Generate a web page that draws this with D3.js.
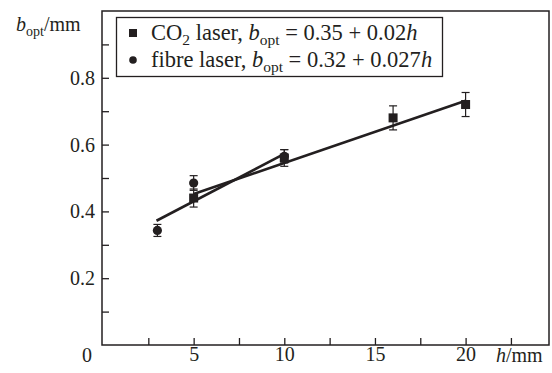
<!DOCTYPE html>
<html>
<head>
<meta charset="utf-8">
<script src="https://cdn.jsdelivr.net/npm/d3@7"></script>
<style>
  body { margin: 0; background: #fff; }
  text { font-family: "Liberation Serif", "Times New Roman", serif; fill: #231f20; }
</style>
</head>
<body>
<svg width="552" height="373"></svg>
<script>
// CO2 laser points
const hCO2 = [5, 10, 16, 20];
const bCO2 = [0.44, 0.56, 0.68, 0.72];
const errCO2 = [0.027, 0.025, 0.036, 0.036];
// fibre laser points
const hFibre = [3, 5, 10];
const bFibre = [0.343, 0.485, 0.565];
const errFibre = [0.018, 0.022, 0.02];
// fitted lines at their end points
const fitCO2 = [[5, 0.452], [20, 0.731]];
const fitFibre = [[2.95, 0.372], [10, 0.572]];
// ticks
const xTicks = [2.5, 5, 7.5, 10, 12.5, 15, 17.5, 20, 22.5];
const xLabels = [5, 10, 15, 20];
const yTicks = [0.1, 0.2, 0.3, 0.4, 0.5, 0.6, 0.7, 0.8, 0.9];
const yLabels = [0.2, 0.4, 0.6, 0.8];

const ink = "#231f20";
const serif = '"Liberation Serif", "Times New Roman", serif';
const svg = d3.select("svg");
const plotLeft = 102, plotRight = 549, plotTop = 11, plotBottom = 345;

const x = d3.scaleLinear().domain([0, 24.6]).range([plotLeft + 1, plotRight]);
const y = d3.scaleLinear().domain([0, 1]).range([plotBottom, plotTop]);

// frame
svg.append("rect")
    .attr("x", plotLeft).attr("y", plotTop)
    .attr("width", plotRight - plotLeft).attr("height", plotBottom - plotTop)
    .attr("fill", "none").attr("stroke", ink).attr("stroke-width", 1.5);

// axes, ticks pointing inwards
const yAxis = svg.append("g")
    .attr("transform", "translate(" + plotLeft + ",0)")
    .call(d3.axisLeft(y).tickValues(yTicks).tickSizeInner(-7).tickSizeOuter(0).tickPadding(7)
        .tickFormat(function(d) { return yLabels.some(v => Math.abs(v - d) < 1e-9) ? d3.format(".1f")(d) : ""; }));
const xAxis = svg.append("g")
    .attr("transform", "translate(0," + plotBottom + ")")
    .call(d3.axisBottom(x).tickValues(xTicks).tickSizeInner(-7).tickSizeOuter(0).tickPadding(2)
        .tickFormat(function(d) { return xLabels.indexOf(d) >= 0 ? d : ""; }));
[xAxis, yAxis].forEach(function(a) {
    a.attr("font-family", serif).attr("font-size", 20);
    a.select(".domain").remove();
    a.selectAll("line").attr("stroke", ink).attr("stroke-width", 1.3);
    a.selectAll("text").attr("fill", ink);
});

// origin label and axis titles
svg.append("text").attr("x", 87).attr("y", 362).attr("text-anchor", "middle")
    .attr("font-family", serif).attr("font-size", 20).text("0");

const hLabel = svg.append("text").attr("x", 496).attr("y", 362)
    .attr("font-family", serif).attr("font-size", 20);
hLabel.append("tspan").style("font-style", "italic").text("h");
hLabel.append("tspan").text("/mm");

const bLabel = svg.append("text").attr("x", 16).attr("y", 31)
    .attr("font-family", serif).attr("font-size", 20);
bLabel.append("tspan").style("font-style", "italic").text("b");
bLabel.append("tspan").attr("dy", 5).attr("font-size", 14).text("opt");
bLabel.append("tspan").attr("dy", -5).text("/mm");

// fit lines
const line = d3.line().x(d => x(d[0])).y(d => y(d[1]));
[fitCO2, fitFibre].forEach(function(f) {
    svg.append("path").datum(f).attr("d", line)
        .attr("fill", "none").attr("stroke", ink).attr("stroke-width", 2.6);
});

// error bars
function errorBars(hs, bs, es) {
    const g = svg.append("g").attr("stroke", ink).attr("stroke-width", 1.2);
    hs.forEach(function(h, i) {
        const cx = x(h), y1 = y(bs[i] + es[i]), y2 = y(bs[i] - es[i]);
        g.append("line").attr("x1", cx).attr("x2", cx).attr("y1", y1).attr("y2", y2);
        g.append("line").attr("x1", cx - 4).attr("x2", cx + 4).attr("y1", y1).attr("y2", y1);
        g.append("line").attr("x1", cx - 4).attr("x2", cx + 4).attr("y1", y2).attr("y2", y2);
    });
}
errorBars(hFibre, bFibre, errFibre);
errorBars(hCO2, bCO2, errCO2);

// markers
svg.append("g").selectAll("circle").data(hFibre).join("circle")
    .attr("cx", d => x(d)).attr("cy", (d, i) => y(bFibre[i])).attr("r", 4.6).attr("fill", ink);
svg.append("g").selectAll("rect").data(hCO2).join("rect")
    .attr("x", d => x(d) - 4.5).attr("y", (d, i) => y(bCO2[i]) - 4.5)
    .attr("width", 9).attr("height", 9).attr("fill", ink);

// legend
const lg = svg.append("g");
lg.append("rect").attr("x", 116.5).attr("y", 17.5).attr("width", 326).attr("height", 59)
    .attr("fill", "#fff").attr("stroke", ink).attr("stroke-width", 1.3);
lg.append("rect").attr("x", 129).attr("y", 29).attr("width", 8).attr("height", 8).attr("fill", ink);
lg.append("circle").attr("cx", 133).attr("cy", 60).attr("r", 3.8).attr("fill", ink);

function legendText(yPos, name, sub, eq) {
    const t = lg.append("text").attr("x", 151).attr("y", yPos)
        .attr("font-family", serif).attr("font-size", 22.5);
    if (sub) {
        t.append("tspan").text("CO");
        t.append("tspan").attr("dy", 5).attr("font-size", 15.5).text("2");
        t.append("tspan").attr("dy", -5).text(" laser, ");
    } else {
        t.append("tspan").text(name + ", ");
    }
    t.append("tspan").style("font-style", "italic").text("b");
    t.append("tspan").attr("dy", 5).attr("font-size", 15.5).text("opt");
    t.append("tspan").attr("dy", -5).text(" = " + eq);
    t.append("tspan").style("font-style", "italic").text("h");
}
legendText(40, "", true, "0.35 + 0.02");
legendText(67, "fibre laser", false, "0.32 + 0.027");
</script>
</body>
</html>
